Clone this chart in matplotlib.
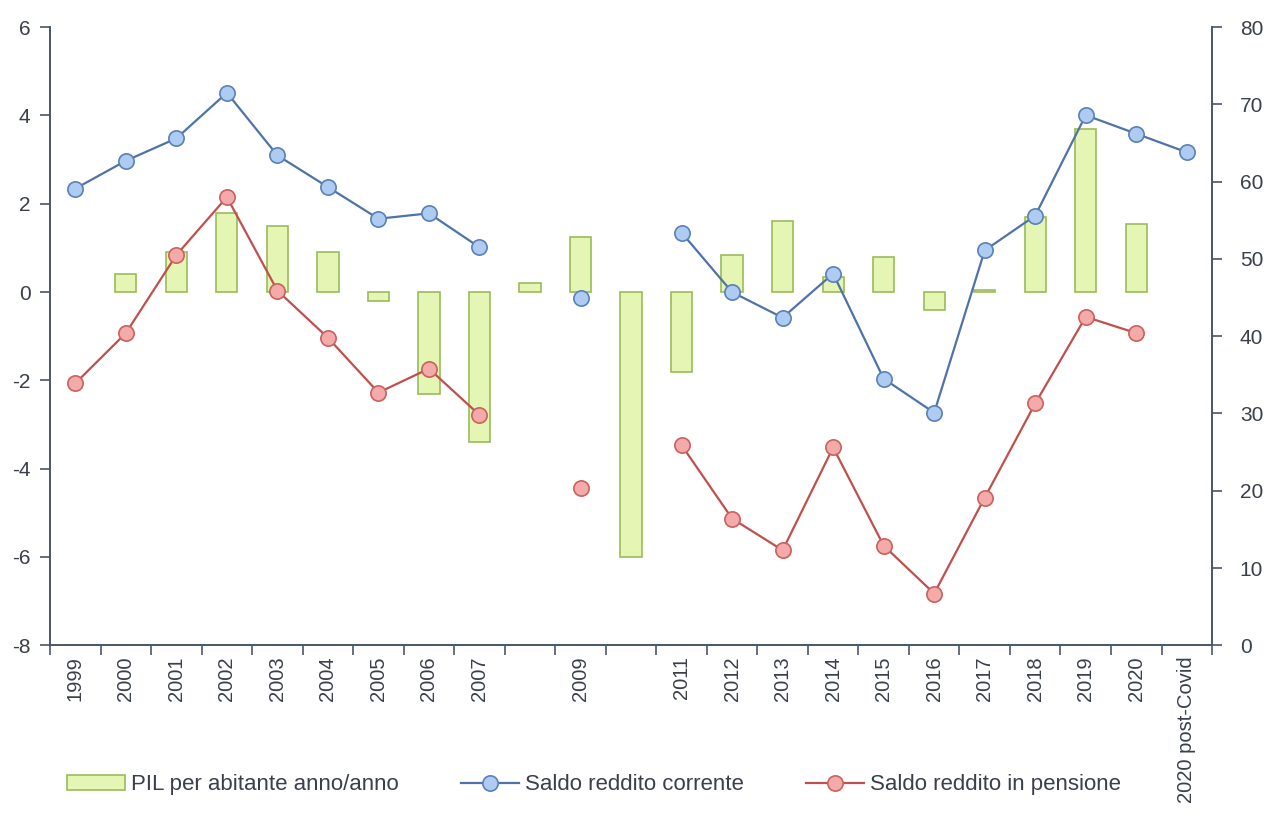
import numpy as np
import matplotlib
matplotlib.use('Agg')
import matplotlib.pyplot as plt

# Data
categories = ['1999', '2000', '2001', '2002', '2003', '2004', '2005', '2006',
              '2007', '2008', '2009', '2010', '2011', '2012', '2013', '2014',
              '2015', '2016', '2017', '2018', '2019', '2020', '2020 post-Covid']
tick_labels = ['1999', '2000', '2001', '2002', '2003', '2004', '2005', '2006',
               '2007', '', '2009', '', '2011', '2012', '2013', '2014',
               '2015', '2016', '2017', '2018', '2019', '2020', '2020 post-Covid']

nan = np.nan
pil = [nan, 0.4, 0.9, 1.8, 1.5, 0.9, -0.2, -2.3, -3.4, 0.2, 1.25, -6.0,
       -1.8, 0.85, 1.6, 0.35, 0.8, -0.4, 0.05, 1.7, 3.7, 1.55, nan]
saldo_corrente = [59.1, 62.7, 65.6, 71.5, 63.4, 59.3, 55.2, 55.9, 51.5, nan,
                  45.0, nan, 53.4, 45.7, 42.4, 48.1, 34.5, 30.1, 51.1, 55.6,
                  68.6, 66.2, 63.8]
saldo_pensione = [33.9, 40.4, 50.5, 58.0, 45.9, 39.8, 32.7, 35.8, 29.8, nan,
                  20.4, nan, 25.9, 16.4, 12.3, 25.6, 12.9, 6.7, 19.1, 31.3,
                  42.5, 40.4, nan]

plt.rcParams['font.family'] = ['Liberation Sans', 'DejaVu Sans']
plt.rcParams['axes.unicode_minus'] = False
txt = '#3a3f4a'
spine_c = '#4a5568'

fig = plt.figure(figsize=(12.64, 8.21), dpi=100)
ax = fig.add_axes([0.0396, 0.214, 0.9193, 0.753])
ax2 = ax.twinx()

x = np.arange(len(categories))
ax.bar(x, pil, width=0.42, color='#e4f5b4', edgecolor='#9bbb59', linewidth=1.2,
       label='PIL per abitante anno/anno', zorder=2)

# lines on the right-hand axis (0-80)
ax2.plot(x, saldo_corrente, '-o', color='#4f73a8', lw=1.6, ms=11,
         mfc='#aecbf2', mec='#5b80b8', mew=1.2, label='Saldo reddito corrente', zorder=3)
ax2.plot(x, saldo_pensione, '-o', color='#c0504d', lw=1.6, ms=11,
         mfc='#f4aaa8', mec='#c9625f', mew=1.2, label='Saldo reddito in pensione', zorder=3)

ax.set_xlim(-0.5, len(categories) - 0.5)
ax.set_ylim(-8, 6)
ax.set_yticks(np.arange(-8, 7, 2))
ax2.set_ylim(0, 80)
ax2.set_yticks(np.arange(0, 81, 10))

ax.set_xticks(x)
ax.set_xticklabels(tick_labels, rotation=90, fontsize=14.5, color=txt)
ax.set_xticks(np.arange(-0.5, len(categories), 1), minor=True)
ax.tick_params(axis='x', which='major', length=0, pad=8)
ax.tick_params(axis='x', which='minor', length=7, color=spine_c, width=1.2)
ax.tick_params(axis='y', labelsize=15, colors=txt, length=7, width=1.2, pad=7)
ax2.tick_params(axis='y', labelsize=15, colors=txt, length=7, width=1.2, pad=13)
for a in (ax, ax2):
    a.tick_params(axis='y', color=spine_c)

for a in (ax, ax2):
    a.spines['top'].set_visible(False)
    for s in ('left', 'right', 'bottom'):
        a.spines[s].set_color(spine_c)
        a.spines[s].set_linewidth(1.2)

h1, l1 = ax.get_legend_handles_labels()
h2, l2 = ax2.get_legend_handles_labels()
fig.legend(h1 + h2, l1 + l2, loc='center', bbox_to_anchor=(0.470, 0.044), ncol=3,
           frameon=False, fontsize=16, handlelength=2.6, columnspacing=2.8,
           handletextpad=0.27, labelcolor=txt)

fig.savefig('out.png', dpi=100)
